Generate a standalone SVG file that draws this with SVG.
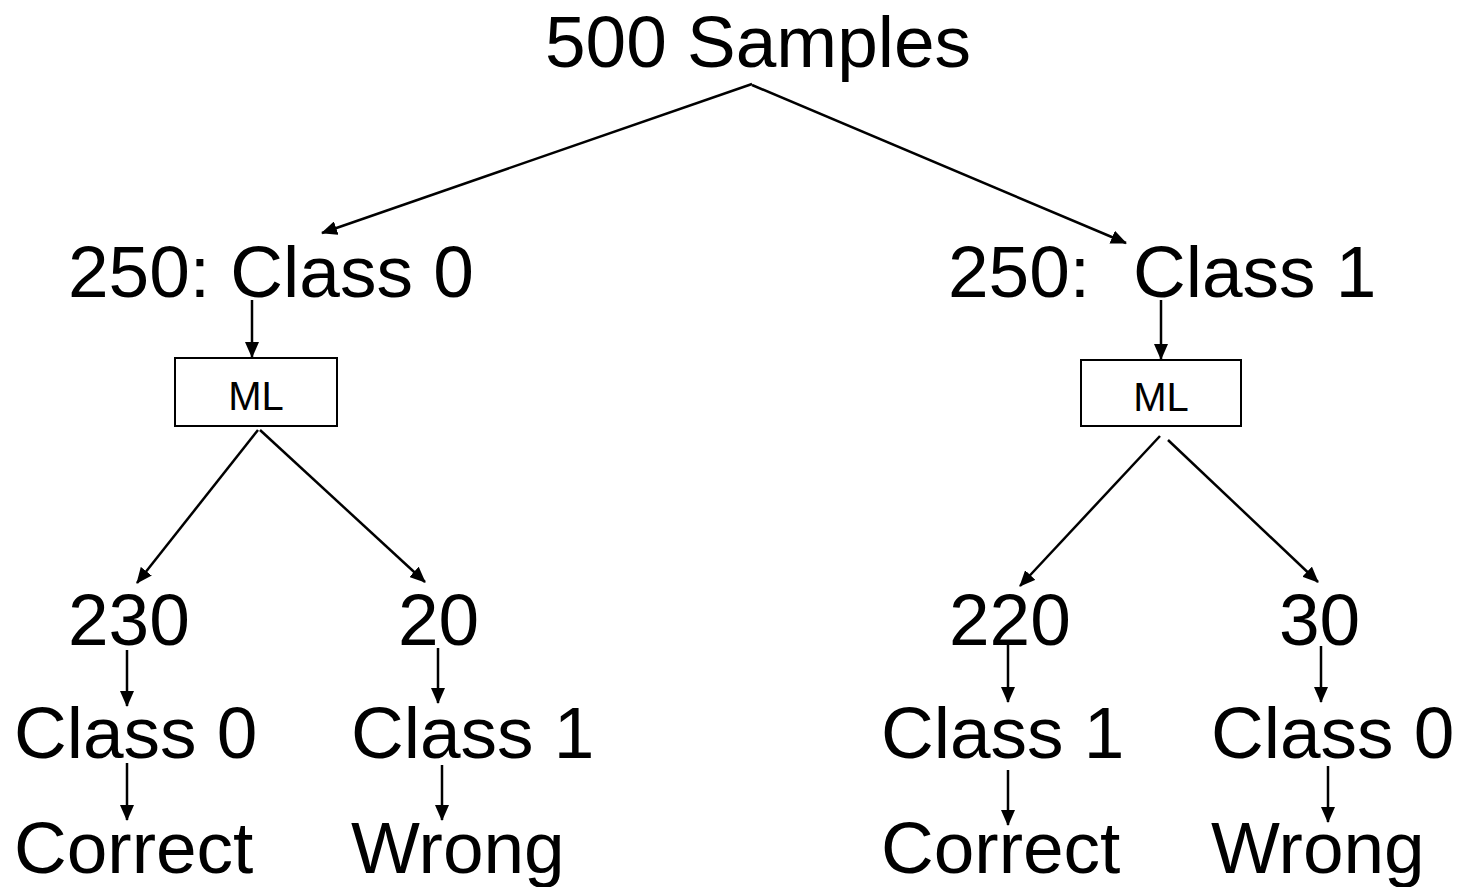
<svg xmlns="http://www.w3.org/2000/svg" width="1458" height="887" viewBox="0 0 1458 887">
<style>
.t{font-family:"Liberation Sans",Arial,sans-serif;font-size:73px;fill:#000}
.s{font-family:"Liberation Sans",Arial,sans-serif;font-size:40px;fill:#000}
.b{fill:#fff;stroke:#000;stroke-width:2}
.c line{stroke:#000;stroke-width:2.5;marker-end:url(#ah)}
</style>
<defs>
<marker id="ah" markerUnits="userSpaceOnUse" markerWidth="16" markerHeight="14" viewBox="0 0 16 14" refX="15" refY="7" orient="auto">
<path d="M0,0 L16,7 L0,14 Z" fill="#000"/>
</marker>
</defs>
<rect width="1458" height="887" fill="#fff"/>
<g id="root"><text class="t" x="545" y="67">500 Samples</text></g>
<g id="left"><text class="t" x="68" y="297">250: Class 0</text></g>
<g id="right"><text class="t" x="948" y="297">250:</text><text class="t" x="1133" y="297">Class 1</text></g>
<g id="ml-left"><rect class="b" x="175" y="358" width="162" height="68"/><text class="s" x="256" y="410" text-anchor="middle">ML</text></g>
<g id="ml-right"><rect class="b" x="1081" y="360" width="160" height="66"/><text class="s" x="1161" y="411" text-anchor="middle">ML</text></g>
<g id="n230"><text class="t" x="68" y="645">230</text></g>
<g id="n20"><text class="t" x="398" y="645">20</text></g>
<g id="n220"><text class="t" x="949" y="645">220</text></g>
<g id="n30"><text class="t" x="1279" y="645">30</text></g>
<g id="c0a"><text class="t" x="14" y="758">Class 0</text></g>
<g id="c1a"><text class="t" x="351" y="758">Class 1</text></g>
<g id="c1b"><text class="t" x="881" y="758">Class 1</text></g>
<g id="c0b"><text class="t" x="1211" y="758">Class 0</text></g>
<g id="corA"><text class="t" x="14" y="873">Correct</text></g>
<g id="wrA"><text class="t" x="351" y="873">Wrong</text></g>
<g id="corB"><text class="t" x="881" y="873">Correct</text></g>
<g id="wrB"><text class="t" x="1211" y="873">Wrong</text></g>
<g class="c" id="connectors">
<line x1="752" y1="84" x2="322" y2="233"/>
<line x1="752" y1="85" x2="1126" y2="243"/>
<line x1="252" y1="300" x2="252" y2="357"/>
<line x1="1161" y1="300" x2="1161" y2="359"/>
<line x1="258" y1="430" x2="137" y2="583"/>
<line x1="260" y1="430" x2="425" y2="582"/>
<line x1="1160" y1="436" x2="1020" y2="586"/>
<line x1="1168" y1="440" x2="1318" y2="582"/>
<line x1="127" y1="650" x2="127" y2="706"/>
<line x1="127" y1="763" x2="127" y2="820"/>
<line x1="438" y1="648" x2="438" y2="703"/>
<line x1="442" y1="765" x2="442" y2="820"/>
<line x1="1008" y1="645" x2="1008" y2="702"/>
<line x1="1008" y1="770" x2="1008" y2="825"/>
<line x1="1321" y1="646" x2="1321" y2="702"/>
<line x1="1328" y1="766" x2="1328" y2="822"/>
</g>
</svg>
